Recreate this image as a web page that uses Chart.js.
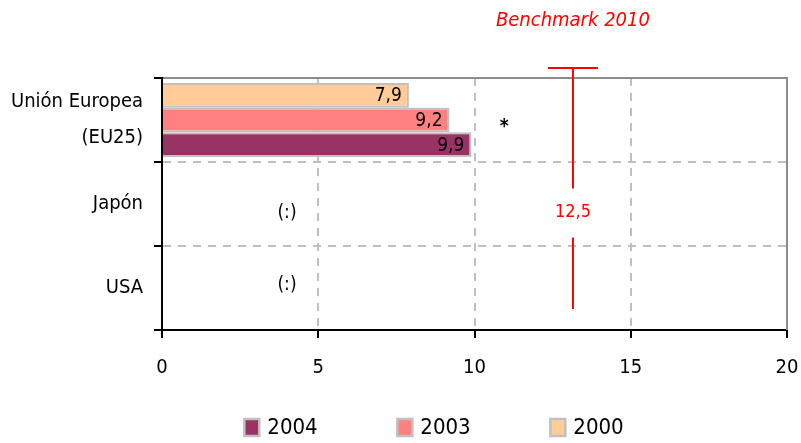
<!DOCTYPE html>
<html>
<head>
<meta charset="utf-8">
<script src="https://cdn.jsdelivr.net/npm/chart.js@4.4.1/dist/chart.umd.min.js"></script>
<style>
  html, body { margin: 0; padding: 0; background: #fff; }
  #wrap { width: 801px; height: 443px; }
</style>
</head>
<body>
<div id="wrap"><canvas id="chart"></canvas></div>
<script>
var categories = [["Unión Europea", "(EU25)"], "Japón", "USA"];
var years = ["2000", "2003", "2004"];
var values2000 = [7.9, null, null];
var values2003 = [9.2, null, null];
var values2004 = [9.9, null, null];
var xMin = 0, xMax = 20, xStep = 5;

// benchmark marker where the source draws it (its label reads 12,5)
var benchmarkX = 13.15;
var benchmarkLabel = "12,5";
var benchmarkTitle = "Benchmark 2010";
var benchmarkSpan = [-0.62, 2.25]; // in category units
var benchmarkLabelAt = 1.1;

// "(:)" = no data for Japón / USA
var missingText = "(:)";
var missingX = 4;
var missingAt = [1.11, 1.96];
var starText = "*";
var starX = 10.95;
var starAt = 0.09;

var FONT = "'DejaVu Sans Condensed', 'DejaVu Sans', sans-serif";
var colors = ["#FFCC99", "#FF8080", "#993366"];
var series = [values2000, values2003, values2004];

Chart.defaults.font.family = FONT;
Chart.defaults.color = "#000";

function fmt(v) {
  return v.toFixed(1).replace(".", ",");
}

var overlay = {
  id: "overlay",
  beforeDatasetsDraw: function (chart) {
    var ctx = chart.ctx, a = chart.chartArea;
    ctx.save();
    ctx.strokeStyle = "#8c8c8c";
    ctx.lineWidth = 2;
    ctx.beginPath();
    ctx.moveTo(a.left, a.top);
    ctx.lineTo(a.right, a.top);
    ctx.lineTo(a.right, a.bottom);
    ctx.stroke();
    ctx.restore();
  },
  afterDatasetsDraw: function (chart) {
    var ctx = chart.ctx, xs = chart.scales.x, ys = chart.scales.y;
    ctx.save();

    // values at the bar ends
    ctx.font = "19px " + FONT;
    ctx.fillStyle = "#000";
    ctx.textAlign = "right";
    ctx.textBaseline = "middle";
    chart.data.datasets.forEach(function (ds, i) {
      chart.getDatasetMeta(i).data.forEach(function (bar, j) {
        if (ds.data[j] == null) return;
        ctx.fillText(fmt(ds.data[j]), bar.x - 7, bar.y + 1);
      });
    });

    ctx.textAlign = "center";
    missingAt.forEach(function (v) {
      ctx.fillText(missingText, xs.getPixelForValue(missingX), ys.getPixelForValue(v));
    });

    ctx.font = "bold 19px " + FONT;
    ctx.fillText(starText, xs.getPixelForValue(starX), ys.getPixelForValue(starAt));

    // benchmark
    var bx = xs.getPixelForValue(benchmarkX);
    var yTop = ys.getPixelForValue(benchmarkSpan[0]);
    var yBot = ys.getPixelForValue(benchmarkSpan[1]);
    var yLab = ys.getPixelForValue(benchmarkLabelAt);
    ctx.strokeStyle = "#ff0000";
    ctx.lineWidth = 2;
    ctx.beginPath();
    ctx.moveTo(bx - 25, yTop);
    ctx.lineTo(bx + 25, yTop);
    ctx.moveTo(bx, yTop);
    ctx.lineTo(bx, yLab - 24);
    ctx.moveTo(bx, yLab + 25);
    ctx.lineTo(bx, yBot);
    ctx.stroke();
    ctx.fillStyle = "#ff0000";
    ctx.font = "18px " + FONT;
    ctx.fillText(benchmarkLabel, bx, yLab);
    ctx.font = "italic 20px " + FONT;
    ctx.fillText(benchmarkTitle, bx, 21);
    ctx.restore();
  },
  afterDraw: function (chart) {
    // legend, newest year first
    var ctx = chart.ctx;
    var items = chart.data.datasets.slice().reverse();
    var spacing = 153, boxW = 15, boxH = 17, gap = 8;
    ctx.save();
    ctx.font = "22px " + FONT;
    var last = items[items.length - 1];
    var total = spacing * (items.length - 1) + boxW + gap + ctx.measureText(last.label).width;
    var x0 = 434 - total / 2;
    items.forEach(function (ds, i) {
      var x = x0 + i * spacing;
      ctx.fillStyle = ds.backgroundColor;
      ctx.fillRect(x, 419, boxW, boxH);
      ctx.strokeStyle = "#c0c0c0";
      ctx.lineWidth = 2.5;
      ctx.strokeRect(x, 419, boxW, boxH);
      ctx.fillStyle = "#000";
      ctx.textAlign = "left";
      ctx.textBaseline = "middle";
      ctx.fillText(ds.label, x + boxW + gap, 428);
    });
    ctx.restore();
  }
};

var datasets = years.map(function (y, i) {
  return {
    label: y,
    data: series[i],
    backgroundColor: colors[i],
    borderColor: "#c0c0c0",
    borderWidth: 2,
    categoryPercentage: 0.88,
    barPercentage: 1.0
  };
});

new Chart(document.getElementById("chart"), {
  type: "bar",
  data: { labels: categories, datasets: datasets },
  options: {
    indexAxis: "y",
    responsive: true,
    maintainAspectRatio: false,
    animation: false,
    layout: { padding: { top: 78, right: 14, left: 0, bottom: 0 } },
    plugins: {
      legend: { display: false },
      tooltip: { enabled: false }
    },
    scales: {
      x: {
        min: xMin,
        max: xMax,
        ticks: { stepSize: xStep, padding: 18, font: { size: 20 } },
        grid: {
          color: "#c0c0c0",
          lineWidth: 2,
          tickColor: "#000",
          tickLength: 8,
          tickWidth: 2,
          tickBorderDash: []
        },
        border: { color: "#000", width: 2, dash: [8, 7] },
        afterFit: function (s) {
          s.height = 113;
          s.paddingLeft = 0;
          s.paddingRight = 0;
        }
      },
      y: {
        ticks: { padding: 11, font: { size: 20, lineHeight: 1.8 } },
        grid: {
          color: "#c0c0c0",
          lineWidth: 2,
          tickColor: "#000",
          tickLength: 8,
          tickWidth: 2,
          tickBorderDash: []
        },
        border: { color: "#000", width: 2, dash: [8, 7], z: 1 },
        afterFit: function (s) { s.width = 162; }
      }
    }
  },
  plugins: [overlay]
});
</script>
</body>
</html>
